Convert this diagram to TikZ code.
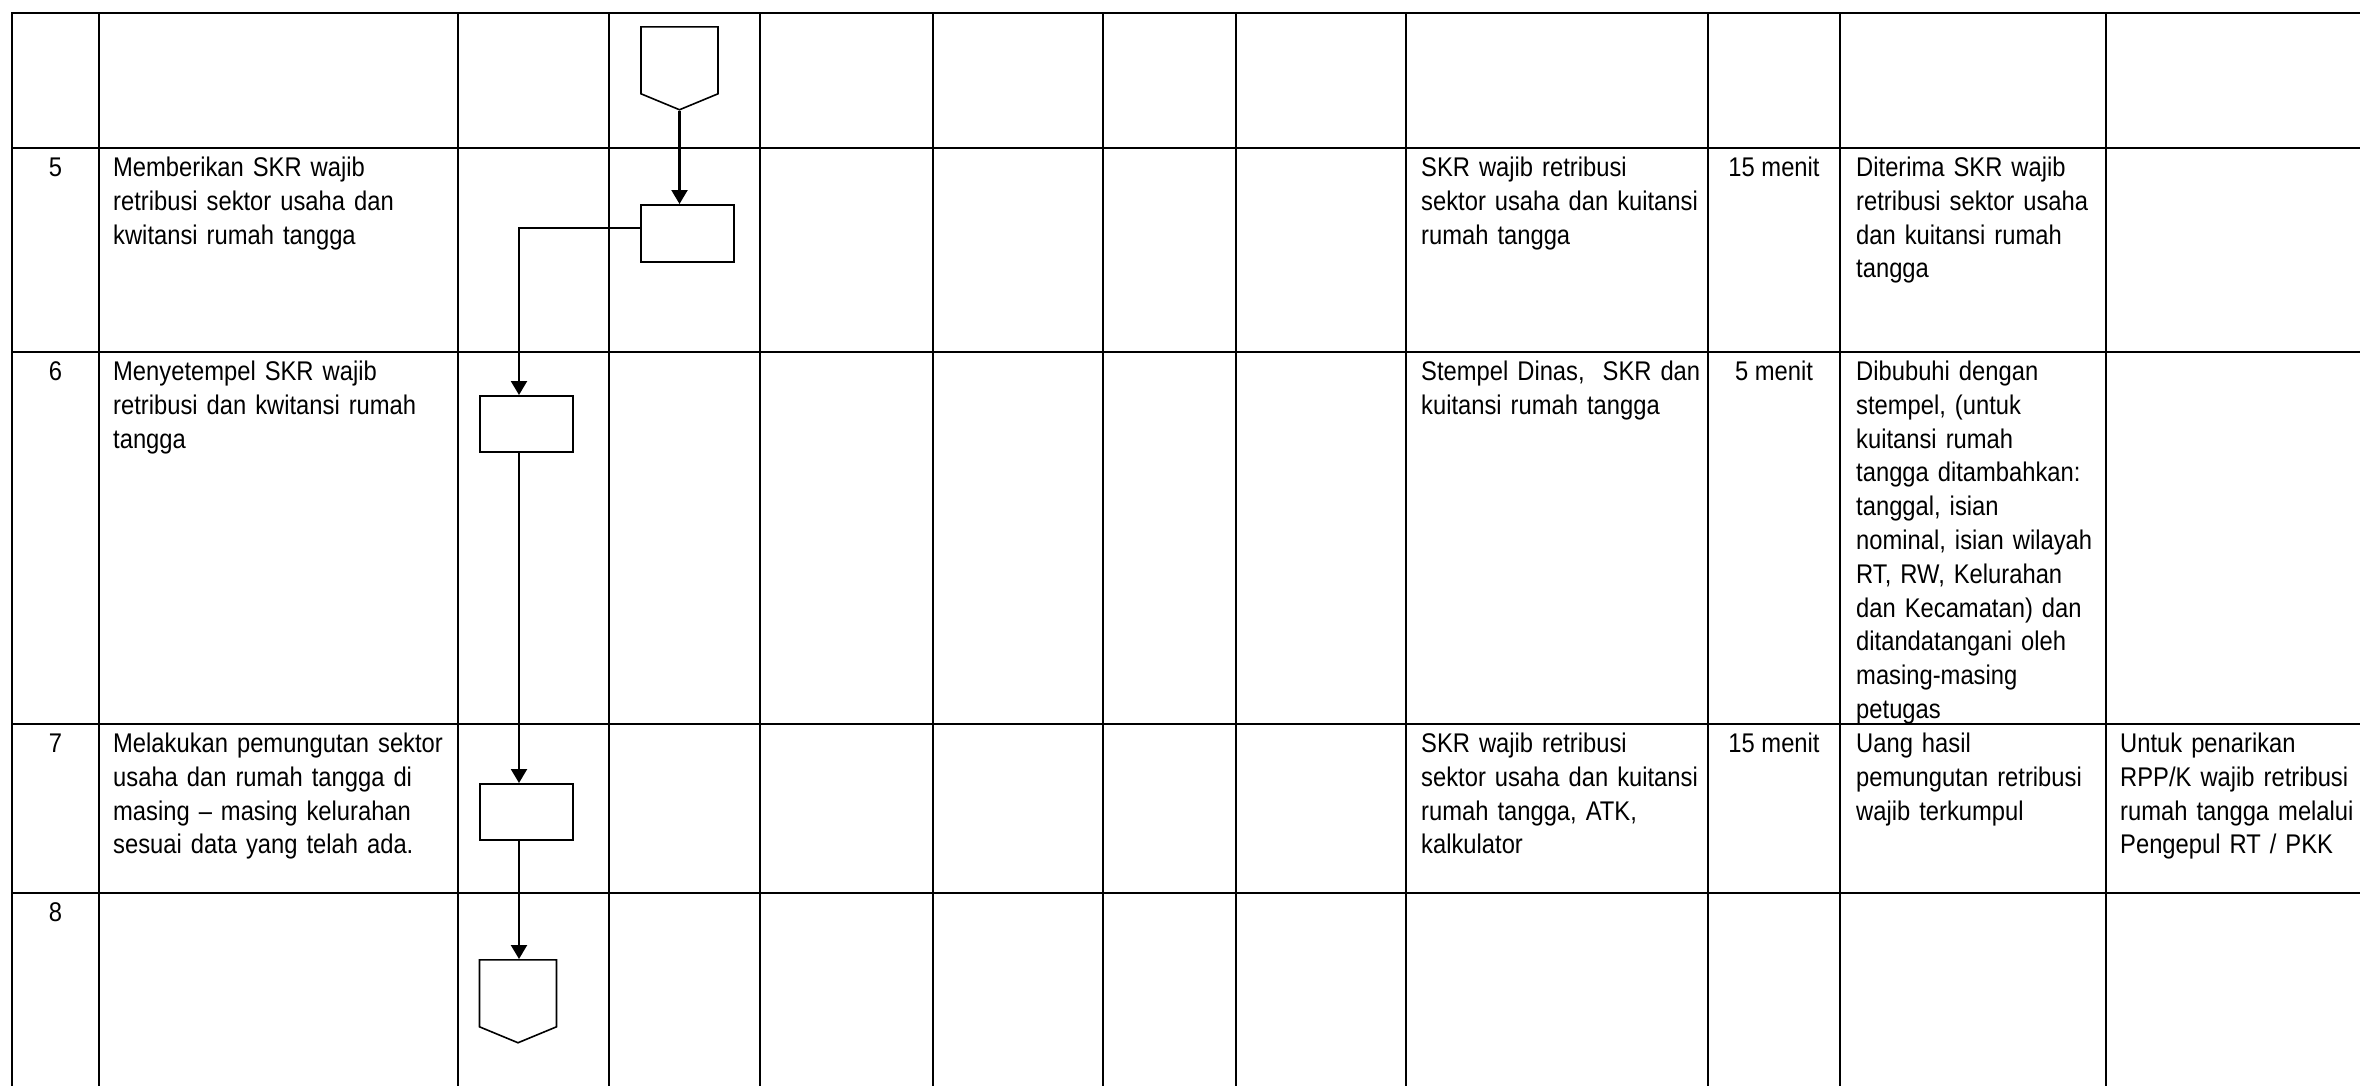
\documentclass[tikz,border=0pt]{standalone}
\usepackage{fontspec}
\setmainfont{Liberation Sans}[FakeStretch=0.88]
\usetikzlibrary{arrows.meta,shapes.symbols}
\tikzset{
  grid/.style={
    line width=2.2pt,
    line cap=rect
  },
  proc/.style={
    draw,
    line width=1.8pt,
    inner sep=0pt,
    minimum width=93pt,
    minimum height=57pt,
    anchor=north west
  },
  offpage/.style={
    draw,
    shape=signal,
    signal to=south,
    signal pointer angle=135,
    line width=1.6pt,
    inner sep=0pt,
    minimum width=77pt,
    minimum height=67pt,
    anchor=north
  },
  flow/.style={
    line width=2.2pt,
    -{Triangle[width=16pt,length=14pt]}
  },
}
\tikzset{
  cell/.style={
    anchor=base west,
    inner sep=0pt,
    text width=400pt,
    align=left,
    font=\fontsize{27}{33.8}\selectfont
  },
  mid/.style={
    anchor=base,
    inner sep=0pt,
    font=\fontsize{27}{33.8}\selectfont
  },
}
\begin{document}
\begin{tikzpicture}[x=1pt,y=-1pt]
  \useasboundingbox (0,0) rectangle (2360,1085);
  \foreach \gx in {12,99,458,609,760,933,1103,1236,1406,1708,1840,2106}
    \draw[grid] (\gx,13) -- (\gx,1090);
  \foreach \gy in {13,148,352,724,893}
    \draw[grid, line width=2.6pt] (12,\gy) -- (2365,\gy);

  \node[offpage] (pg1) at (679.5,26) {};
  \node[proc] (box1) at (640,204) {};
  \node[proc, minimum height=56pt] (box2) at (479,395) {};
  \node[proc, minimum height=56pt] (box3) at (479,783) {};
  \node[offpage] (pg2) at (518,959) {};
  \coordinate (elb) at (0,228);
  \coordinate (lane) at (519,0);

  \draw[flow] (pg1.south) -- (pg1.south |- box1.north);
  \draw[flow] (box1.west |- elb) -| (lane |- box2.north);
  \draw[flow] (lane |- box2.south) -- (lane |- box3.north);
  \draw[flow] (lane |- box3.south) -- (lane |- pg2.north);

  \node[mid] (n5) at (55.5,176.5) {5};
  \node[cell] (s5) at (113,176.5) {Memberikan SKR wajib\\retribusi sektor usaha dan\\kwitansi rumah tangga};
  \node[cell] (k5) at (1421,176.5) {SKR wajib retribusi\\sektor usaha dan kuitansi\\rumah tangga};
  \node[mid] (w5) at (1774,176.5) {15 menit};
  \node[cell] (o5) at (1856,176.5) {Diterima SKR wajib\\retribusi sektor usaha\\dan kuitansi rumah\\tangga};

  \node[mid] (n6) at (55.5,380.5) {6};
  \node[cell] (s6) at (113,380.5) {Menyetempel SKR wajib\\retribusi dan kwitansi rumah\\tangga};
  \node[cell] (k6) at (1421,380.5) {Stempel Dinas,\ \ SKR dan\\kuitansi rumah tangga};
  \node[mid] (w6) at (1774,380.5) {5 menit};
  \node[cell] (o6) at (1856,380.5) {Dibubuhi dengan\\stempel, (untuk\\kuitansi rumah\\tangga ditambahkan:\\tanggal, isian\\nominal, isian wilayah\\RT, RW, Kelurahan\\dan Kecamatan) dan\\ditandatangani oleh\\masing-masing\\petugas};

  \node[mid] (n7) at (55.5,752.5) {7};
  \node[cell] (s7) at (113,752.5) {Melakukan pemungutan sektor\\usaha dan rumah tangga di\\masing -- masing kelurahan\\sesuai data yang telah ada.};
  \node[cell] (k7) at (1421,752.5) {SKR wajib retribusi\\sektor usaha dan kuitansi\\rumah tangga, ATK,\\kalkulator};
  \node[mid] (w7) at (1774,752.5) {15 menit};
  \node[cell] (o7) at (1856,752.5) {Uang hasil\\pemungutan retribusi\\wajib terkumpul};
  \node[cell] (c7) at (2120,752.5) {Untuk penarikan\\RPP/K wajib retribusi\\rumah tangga melalui\\Pengepul RT / PKK};

  \node[mid] (n8) at (55.5,921.5) {8};
\end{tikzpicture}
\end{document}
